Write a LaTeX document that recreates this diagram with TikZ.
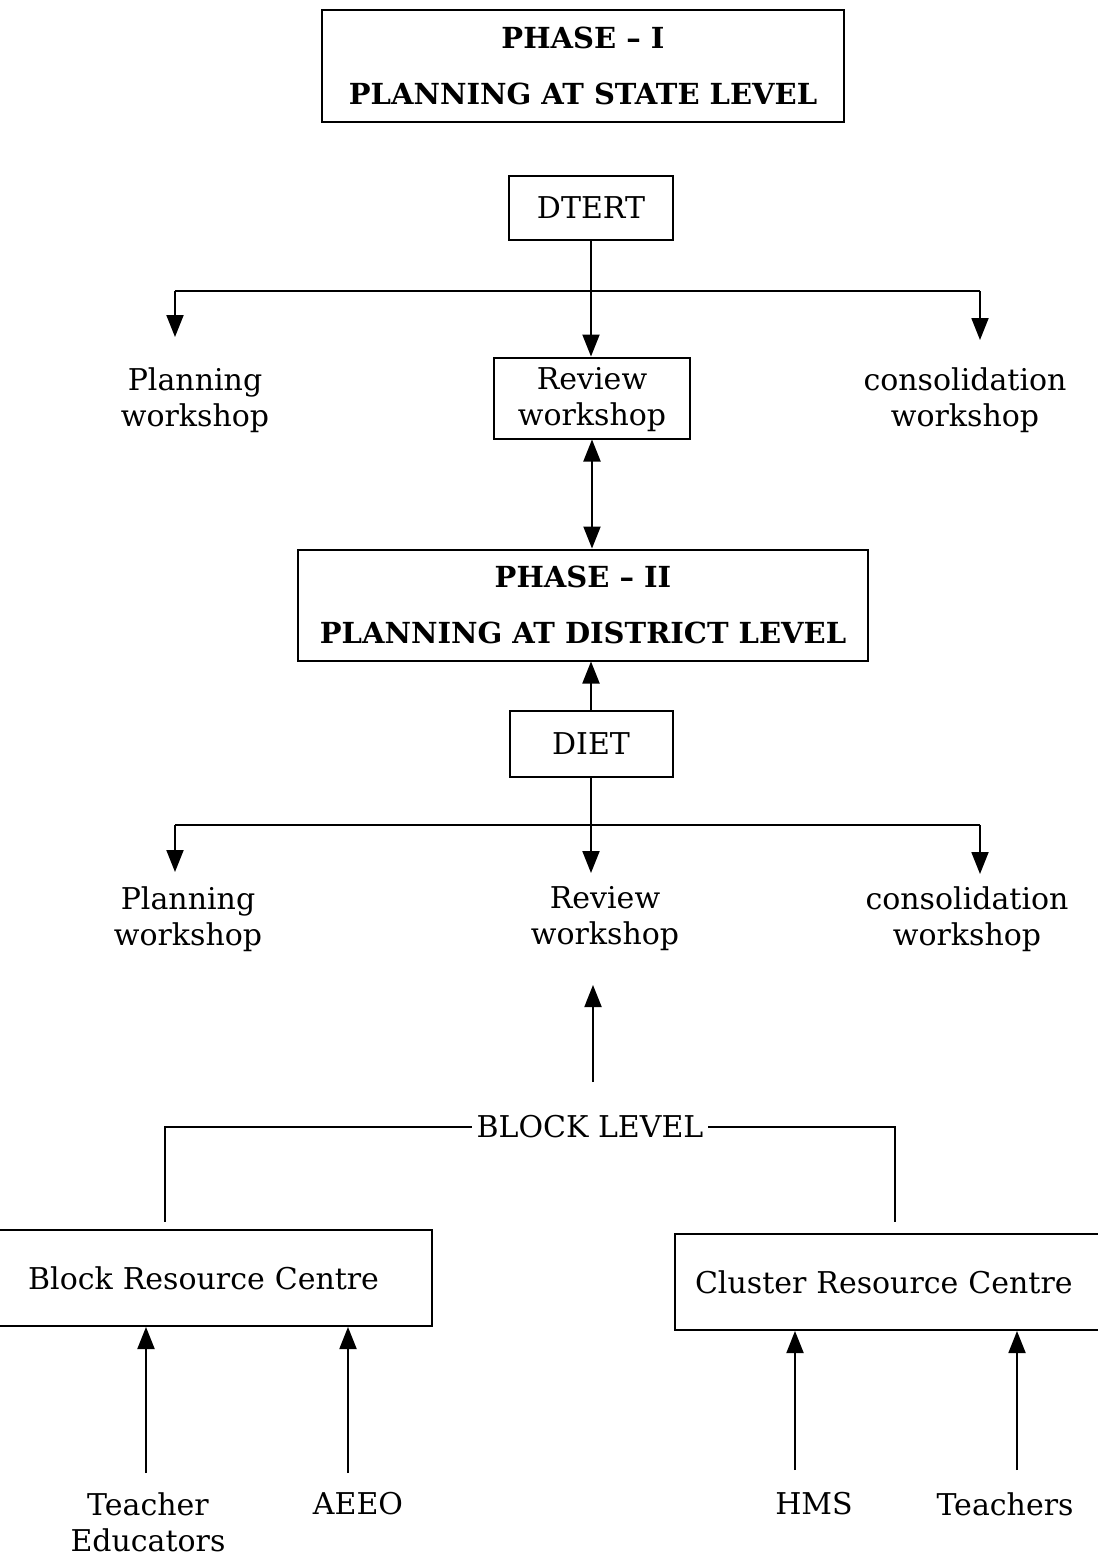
\documentclass[tikz,border=0pt]{standalone}
\usepackage{fontspec}
\setmainfont{DejaVu Serif}
\usetikzlibrary{arrows.meta}

\tikzset{
  frame/.style={draw, line width=2pt, align=center, inner sep=0pt},
  lbl/.style={align=center},
  hd/.style={frame, font=\bfseries\fontsize{29}{56}\selectfont},
}

\begin{document}
\begin{tikzpicture}[x=1pt,y=-1pt,>={Triangle[length=22pt,width=17pt]},
    line width=1.9pt, every node/.style={font=\fontsize{30}{36}\selectfont}]
  \useasboundingbox (0,0) rectangle (1098,1556);
  \clip (0,0) rectangle (1098,1556);

  % phase one, state level
  \node[hd, minimum width=522pt, minimum height=112pt] (ph1) at (583,66)
    {PHASE -- I\\PLANNING AT STATE LEVEL};
  \node[frame, minimum width=164pt, minimum height=64pt] (dtert) at (591,208) {DTERT};
  \node[frame, minimum width=196pt, minimum height=81pt, text depth=4pt] (rev1) at (592,398) {Review\\workshop};
  \node[lbl] (plan1) at (195,400) {Planning\\workshop};
  \node[lbl] (cons1) at (965,400) {consolidation\\workshop};

  \coordinate (l1) at (175,291);
  \coordinate (r1) at (980,291);
  \coordinate (lt1) at (175,337);
  \coordinate (rt1) at (980,340);
  \draw (l1) -- (r1);
  \draw[->] (l1) -- (lt1);
  \draw[->] (r1) -- (rt1);
  \draw[->] (dtert.south) -- (dtert.south |- rev1.north);

  % phase two, district level
  \node[hd, minimum width=570pt, minimum height=111pt] (ph2) at (583,605)
    {PHASE -- II\\PLANNING AT DISTRICT LEVEL};
  \draw[<->] (rev1.south) -- (rev1.south |- ph2.north);
  \node[frame, minimum width=163pt, minimum height=66pt] (diet) at (591,744) {DIET};
  \draw[->] (diet.north) -- (diet.north |- ph2.south);

  \node[lbl] (plan2) at (188,919) {Planning\\workshop};
  \node[lbl] (rev2) at (605,919) {Review\\workshop};
  \node[lbl] (cons2) at (967,919) {consolidation\\workshop};

  \coordinate (l2) at (175,825);
  \coordinate (r2) at (980,825);
  \coordinate (lt2) at (175,872);
  \coordinate (rt2) at (980,874);
  \coordinate (mt2) at (591,873);
  \draw (l2) -- (r2);
  \draw[->] (l2) -- (lt2);
  \draw[->] (r2) -- (rt2);
  \draw[->] (diet.south) -- (mt2);

  % block level
  \coordinate (u0) at (593,1082);
  \coordinate (u1) at (593,985);
  \draw[->] (u0) -- (u1);

  \node[inner xsep=4pt] (blk) at (590,1127) {BLOCK LEVEL};
  \coordinate (bl) at (165,1222);
  \coordinate (br) at (895,1222);
  \draw (blk.west) -| (bl);
  \draw (blk.east) -| (br);

  \node[frame, anchor=east, text width=440pt, align=right, inner xsep=53pt,
    minimum height=96pt] (brc) at (433,1278) {Block Resource Centre};
  \node[frame, anchor=west, text width=440pt, align=left, inner xsep=20pt,
    minimum height=96pt] (crc) at (674,1282) {Cluster Resource Centre};

  \node[lbl] (te) at (148,1522) {Teacher\\Educators};
  \node (aeeo) at (358,1504) {AEEO};
  \node (hms) at (814,1504) {HMS};
  \node (tch) at (1005,1504) {Teachers};

  \coordinate (a1) at (146,1473);
  \coordinate (a2) at (348,1473);
  \coordinate (a3) at (795,1470);
  \coordinate (a4) at (1017,1470);
  \draw[->] (a1) -- (a1 |- brc.south);
  \draw[->] (a2) -- (a2 |- brc.south);
  \draw[->] (a3) -- (a3 |- crc.south);
  \draw[->] (a4) -- (a4 |- crc.south);
\end{tikzpicture}
\end{document}
